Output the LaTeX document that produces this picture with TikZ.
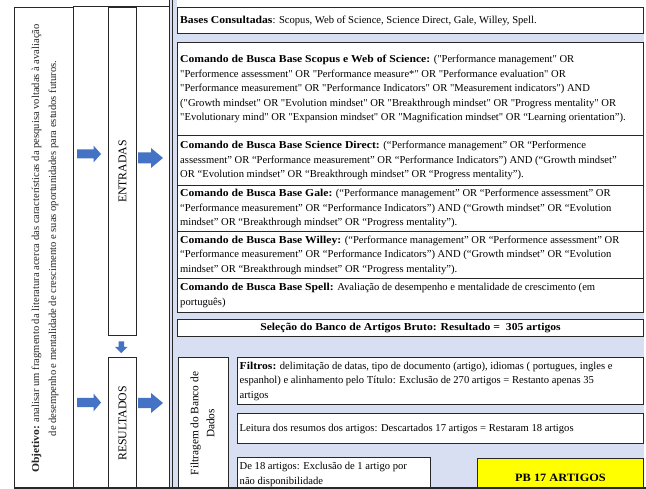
\documentclass[tikz,border=0pt]{standalone}
\usepackage{fontspec}
\setmainfont{Liberation Serif}[Ligatures=TeXOff, BoldFeatures={FakeStretch=1.1}]
\definecolor{panelblue}{RGB}{217,223,242}
\definecolor{arrowblue}{RGB}{68,114,196}
\definecolor{pbyellow}{RGB}{255,255,0}
\definecolor{framegray}{RGB}{40,40,40}
\begin{document}
\begin{tikzpicture}[x=1pt,y=-1pt,
  box/.style={draw=framegray, line width=1pt, fill=white, inner sep=0pt, anchor=north west},
  bodytext/.style={font=\fontsize{10.6}{14.5}\selectfont, align=left, inner sep=0pt, anchor=west},
  sidetext/.style={font=\fontsize{11.8}{14}\selectfont, inner sep=0pt, rotate=90},
  blockarrow/.style={fill=arrowblue}
]
\useasboundingbox (0,0) rectangle (646,489);
\fill[white] (0,0) rectangle (646,489);

% ---------- right panel background ----------
\fill[panelblue] (169,7) rectangle (644,489);
\fill[panelblue] (169,0) rectangle (177,7);
\draw[framegray, line width=1pt] (169,0) -- (169,489);
\draw[framegray, line width=0.6pt] (172.5,0) -- (172.5,489);

% ---------- left columns ----------
\node[box, minimum width=59, minimum height=482] (obj) at (14,7) {};
\draw[framegray, line width=1pt] (73,7) -- (169,7);
\node[sidetext, font=\fontsize{10.6}{17}\selectfont, align=center, text=black!85] (objtext) at ([xshift=1]obj.center)
  {\textbf{Objetivo:} analisar um fragmento da literatura acerca das características da pesquisa voltadas à avaliação\\
   de desempenho e mentalidade de crescimento e suas oportunidades para estudos futuros.};

\node[box, minimum width=28, minimum height=328] (entradas) at (108,7) {};
\node[sidetext] (entradastext) at (entradas.center) {ENTRADAS};
\node[box, minimum width=28, minimum height=132] (resultados) at (108,357) {};
\node[sidetext] (resultadostext) at (resultados.center) {RESULTADOS};

% ---------- blue block arrows ----------
\fill[blockarrow] (77,149.5) -- (93.5,149.5) -- (93.5,145.5) -- (101,154) -- (93.5,162.5) -- (93.5,158.5) -- (77,158.5) -- cycle;
\fill[blockarrow] (138,152.5) -- (151,152.5) -- (151,148) -- (163,158) -- (151,168) -- (151,163.5) -- (138,163.5) -- cycle;
\fill[blockarrow] (77,398) -- (93.5,398) -- (93.5,393.5) -- (101,402.5) -- (93.5,411.5) -- (93.5,407) -- (77,407) -- cycle;
\fill[blockarrow] (138,398) -- (151,398) -- (151,393) -- (163,403) -- (151,413) -- (151,408) -- (138,408) -- cycle;
\fill[blockarrow] (118.5,341.5) -- (124,341.5) -- (124,347) -- (127.5,347) -- (121.25,353) -- (115,347) -- (118.5,347) -- cycle;

% ---------- right panel boxes ----------
\node[box, minimum width=466, minimum height=26] (bases) at (177,7) {};
\node[bodytext] (basestext) at ([xshift=3]bases.west)
  {\textbf{Bases Consultadas}: Scopus, Web of Science, Science Direct, Gale, Willey, Spell.};

\node[box, minimum width=466, minimum height=93] (scopus) at (177,42) {};
\node[bodytext] (scopustext) at ([xshift=3]scopus.west)
  {\textbf{Comando de Busca Base Scopus e Web of Science:} ("Performance management" OR\\
   "Performence assessment" OR "Performance measure*" OR "Performance evaluation" OR\\
   "Performance measurement" OR "Performance Indicators" OR "Measurement indicators") AND\\
   ("Growth mindset" OR "Evolution mindset" OR "Breakthrough mindset" OR "Progress mentality" OR\\
   "Evolutionary mind" OR "Expansion mindset" OR "Magnification mindset" OR “Learning orientation”).};

\node[box, minimum width=466, minimum height=50] (sd) at (177,135) {};
\node[bodytext] (sdtext) at ([xshift=3]sd.west)
  {\textbf{Comando de Busca Base Science Direct:} (“Performance management” OR “Performence\\
   assessment” OR “Performance measurement” OR “Performance Indicators”) AND (“Growth mindset”\\
   OR “Evolution mindset” OR “Breakthrough mindset” OR “Progress mentality”).};

\node[box, minimum width=466, minimum height=46] (gale) at (177,185) {};
\node[bodytext] (galetext) at ([xshift=3]gale.west)
  {\textbf{Comando de Busca Base Gale:} (“Performance management” OR “Performence assessment” OR\\
   “Performance measurement” OR “Performance Indicators”) AND (“Growth mindset” OR “Evolution\\
   mindset” OR “Breakthrough mindset” OR “Progress mentality”).};

\node[box, minimum width=466, minimum height=47] (willey) at (177,231) {};
\node[bodytext] (willeytext) at ([xshift=3]willey.west)
  {\textbf{Comando de Busca Base Willey:} (“Performance management” OR “Performence assessment” OR\\
   “Performance measurement” OR “Performance Indicators”) AND (“Growth mindset” OR “Evolution\\
   mindset” OR “Breakthrough mindset” OR “Progress mentality”).};

\node[box, minimum width=466, minimum height=34] (spell) at (177,278) {};
\node[bodytext] (spelltext) at ([xshift=3]spell.west)
  {\textbf{Comando de Busca Base Spell:} Avaliação de desempenho e mentalidade de crescimento (em\\
   português)};

\node[box, minimum width=466, minimum height=17] (selecao) at (177,319) {};
\node[bodytext, anchor=center] (selecaotext) at ([yshift=0.5]selecao.center)
  {\textbf{Seleção do Banco de Artigos Bruto: Resultado =\ \ 305 artigos}};

% ---------- filtering ----------
\node[box, minimum width=50, minimum height=132] (filtragem) at (178,357) {};
\node[sidetext, font=\fontsize{11.3}{16}\selectfont, align=center] (filtragemtext) at ([xshift=-1]filtragem.center)
  {Filtragem do Banco de\\Dados};

\node[box, minimum width=406, minimum height=47] (filtros) at (237,357) {};
\node[bodytext] (filtrostext) at ([xshift=2.5]filtros.west)
  {\textbf{Filtros:} delimitação de datas, tipo de documento (artigo), idiomas ( portugues, ingles e\\
   espanhol) e alinhamento pelo Título: Exclusão de 270 artigos = Restanto apenas 35\\
   artigos};

\node[box, minimum width=406, minimum height=30] (leitura) at (237,413) {};
\node[bodytext] (leituratext) at ([xshift=2.5]leitura.west)
  {Leitura dos resumos dos artigos: Descartados 17 artigos = Restaram 18 artigos};

\node[box, minimum width=193, minimum height=34] (de18) at (237,457) {};
\node[bodytext] (de18text) at ([xshift=2.5]de18.west)
  {De 18 artigos: Exclusão de 1 artigo por\\não disponibilidade};

\node[box, fill=pbyellow, minimum width=166, minimum height=33] (pb) at (477,458) {};
\node[bodytext, anchor=center, font=\fontsize{11.2}{14}\selectfont] (pbtext) at ([yshift=-2.5]pb.center) {\textbf{PB 17 ARTIGOS}};

% ---------- bottom line ----------
\draw[framegray, line width=1.6pt] (14,488) -- (646,488);
\end{tikzpicture}
\end{document}
